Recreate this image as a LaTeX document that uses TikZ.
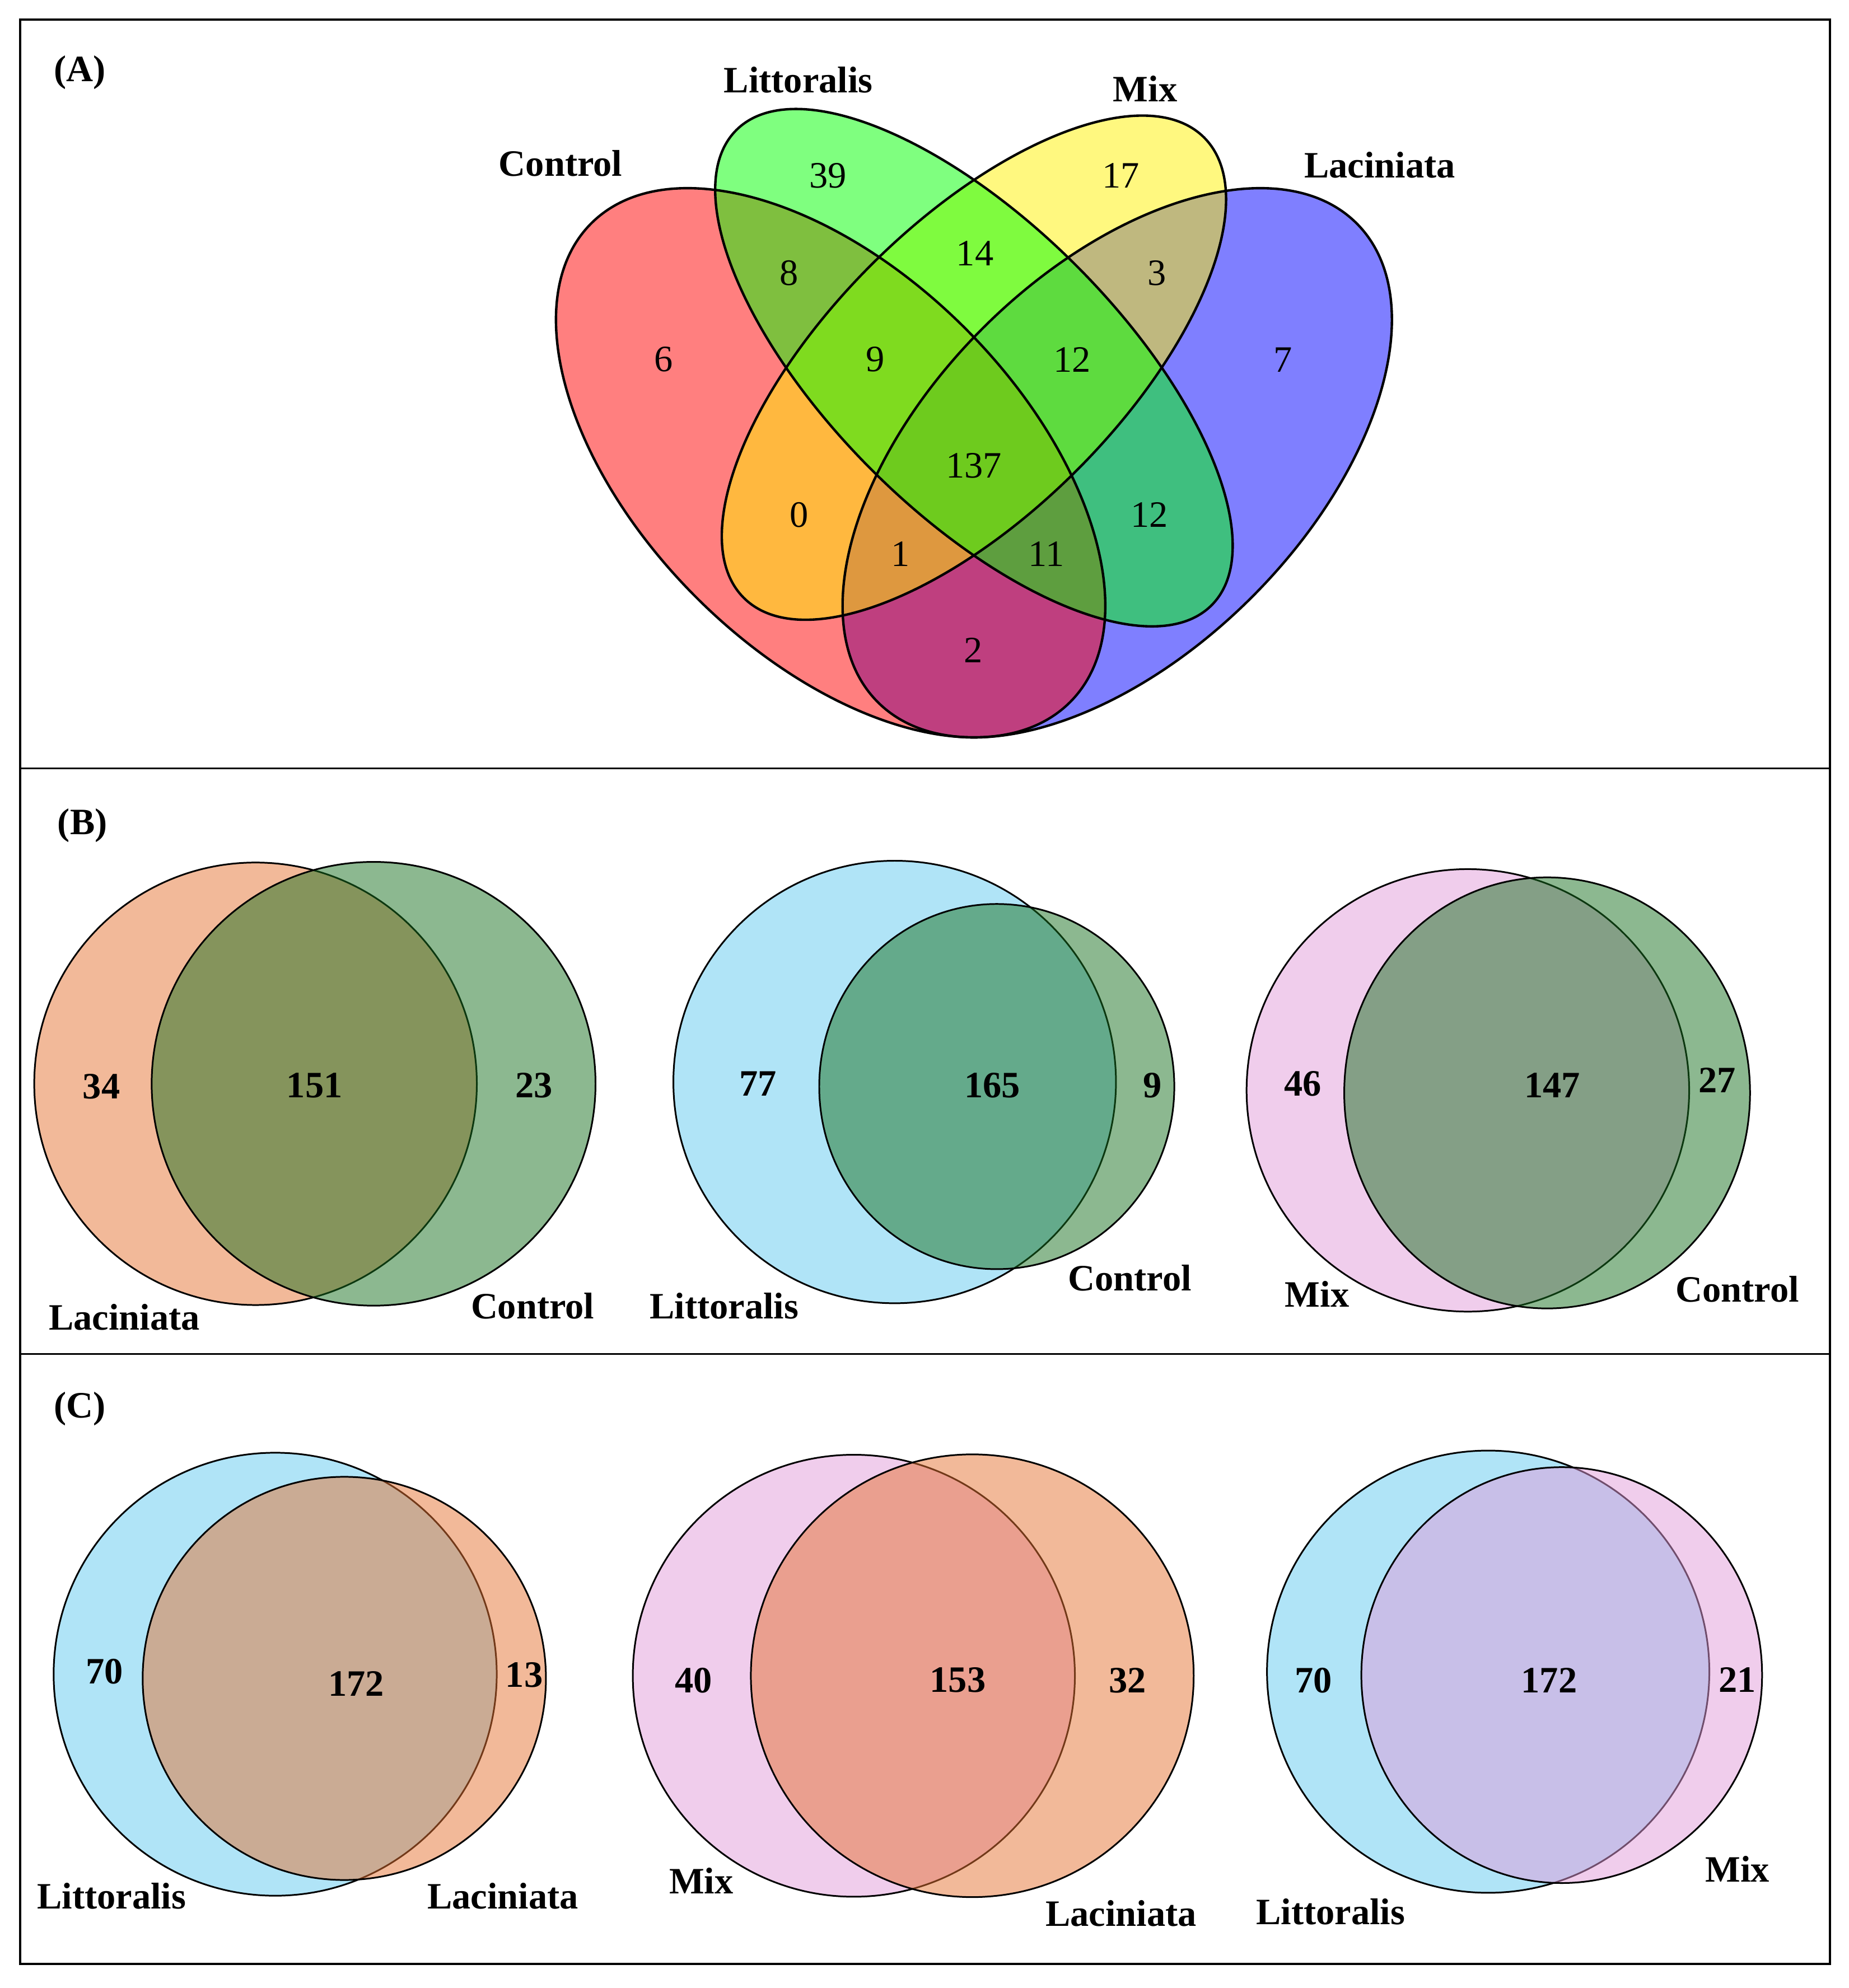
\documentclass[tikz,border=0pt]{standalone}
\usepackage{fontspec}
\setmainfont{Liberation Serif}
\usepackage{tikz}
\usetikzlibrary{calc}
\definecolor{lacin}{RGB}{229,115,51}
\definecolor{ctrl}{RGB}{25,113,33}
\definecolor{litt}{RGB}{97,201,239}
\definecolor{mixc}{RGB}{225,155,217}
\tikzset{
  num/.style={inner sep=0pt,font=\fontsize{16.7}{20}\selectfont},
  bnum/.style={inner sep=0pt,font=\fontsize{16.7}{20}\selectfont\bfseries},
  blob/.style={draw,line width=0.75pt,fill opacity=0.5},
  quad/.style={fill opacity=0.5},
  quadline/.style={line width=1.1pt}
}

\begin{document}
\begin{tikzpicture}[x=0.2mm,y=-0.2mm]
\useasboundingbox (0,0) rectangle (1458,1568);
\draw[line width=1pt] (16,15.5) rectangle (1443,1549);
\draw[line width=0.8pt] (16,606) -- (1443,606);
\draw[line width=0.8pt] (16,1068) -- (1443,1068);

\draw (63,57) node[bnum] (labA) {(A)};
\draw (65,651) node[bnum] (labB) {(B)};
\draw (63,1111) node[bnum] (labC) {(C)};

% (A) four sets
\fill[quad,blue,rotate around={45:(881,365)}] (881,365) ellipse [x radius=267,y radius=150];
\fill[quad,red,rotate around={-45:(655,365)}] (655,365) ellipse [x radius=267,y radius=150];
\fill[quad,yellow,rotate around={45:(768,290)}] (768,290) ellipse [x radius=256.7,y radius=114.6];
\fill[quad,green,rotate around={-45:(768,290)}] (768,290) ellipse [x radius=265,y radius=114];
\draw[quadline,rotate around={45:(881,365)}] (881,365) ellipse [x radius=267,y radius=150];
\draw[quadline,rotate around={-45:(655,365)}] (655,365) ellipse [x radius=267,y radius=150];
\draw[quadline,rotate around={45:(768,290)}] (768,290) ellipse [x radius=256.7,y radius=114.6];
\draw[quadline,rotate around={-45:(768,290)}] (768,290) ellipse [x radius=265,y radius=114];

\draw (442,129) node[bnum] (aCtrl) {Control};
\draw (629.5,63) node[bnum] (aLitt) {Littoralis};
\draw (903,70) node[bnum] (aMix) {Mix};
\draw (1088,130) node[bnum] (aLac) {Laciniata};

\draw (653,138.6) node[num] (a39) {39};
\draw (883.7,138.6) node[num] (a17) {17};
\draw (622.4,215.5) node[num] (a8) {8};
\draw (768.8,199.8) node[num] (a14) {14};
\draw (912.4,215.5) node[num] (a3) {3};
\draw (523.3,283.6) node[num] (a6) {6};
\draw (690,283.6) node[num] (a9) {9};
\draw (845.4,283.6) node[num] (a12up) {12};
\draw (1011.8,283.6) node[num] (a7) {7};
\draw (768,367.5) node[num] (a137) {137};
\draw (630.3,406) node[num] (a0) {0};
\draw (906.4,406) node[num] (a12lo) {12};
\draw (710.2,437) node[num] (a1) {1};
\draw (825,437) node[num] (a11) {11};
\draw (767.7,512.8) node[num] (a2) {2};

% (B) each set against control
\draw[blob,fill=lacin] (201.5,854.8) circle [radius=174.5];
\draw[blob,fill=ctrl] (294.6,854.8) circle [radius=175];
\draw (80,857) node[bnum] (b34) {34};
\draw (248,856) node[bnum] (b151) {151};
\draw (421,856) node[bnum] (b23) {23};
\draw (98,1039) node[bnum] (bLac) {Laciniata};
\draw (420,1030) node[bnum] (bCtrlA) {Control};

\draw[blob,fill=litt] (705.5,853.4) circle [radius=174.5];
\draw[blob,fill=ctrl] (786,857) ellipse [x radius=140,y radius=144];
\draw (597.6,854.6) node[bnum] (b77) {77};
\draw (782.6,856) node[bnum] (b165) {165};
\draw (908.6,856) node[bnum] (b9) {9};
\draw (571,1030) node[bnum] (bLitt) {Littoralis};
\draw (891,1008) node[bnum] (bCtrlB) {Control};

\draw[blob,fill=mixc] (1157.5,860) circle [radius=174.5];
\draw[blob,fill=ctrl] (1220,862) ellipse [x radius=160,y radius=170];
\draw (1027.4,854.6) node[bnum] (b46) {46};
\draw (1224,856) node[bnum] (b147) {147};
\draw (1354,852) node[bnum] (b27) {27};
\draw (1038.6,1020.6) node[bnum] (bMix) {Mix};
\draw (1370,1016.6) node[bnum] (bCtrlC) {Control};

% (C) pairs of treatments
\draw[blob,fill=litt] (217,1320.5) circle [radius=174.7];
\draw[blob,fill=lacin] (271.5,1323.8) circle [radius=159];
\draw (82.5,1318.4) node[bnum] (c70a) {70};
\draw (281,1328) node[bnum] (c172a) {172};
\draw (413.4,1321) node[bnum] (c13) {13};
\draw (88,1495.6) node[bnum] (cLittA) {Littoralis};
\draw (396.5,1495.6) node[bnum] (cLacA) {Laciniata};

\draw[blob,fill=mixc] (673.3,1321.7) circle [radius=174.3];
\draw[blob,fill=lacin] (766.7,1321.7) circle [radius=174.6];
\draw (546.8,1325.3) node[bnum] (c40) {40};
\draw (755.3,1325) node[bnum] (c153) {153};
\draw (889.3,1325.5) node[bnum] (c32) {32};
\draw (553,1483.5) node[bnum] (cMixA) {Mix};
\draw (884,1509) node[bnum] (cLacB) {Laciniata};

\draw[blob,fill=litt] (1173.5,1318.5) circle [radius=174.4];
\draw[blob,fill=mixc] (1231.5,1321.2) ellipse [x radius=158,y radius=164];
\draw (1035.6,1325.3) node[bnum] (c70b) {70};
\draw (1221.6,1325.3) node[bnum] (c172b) {172};
\draw (1370,1325) node[bnum] (c21) {21};
\draw (1049.3,1508) node[bnum] (cLittB) {Littoralis};
\draw (1370,1474) node[bnum] (cMixB) {Mix};
\end{tikzpicture}
\end{document}
